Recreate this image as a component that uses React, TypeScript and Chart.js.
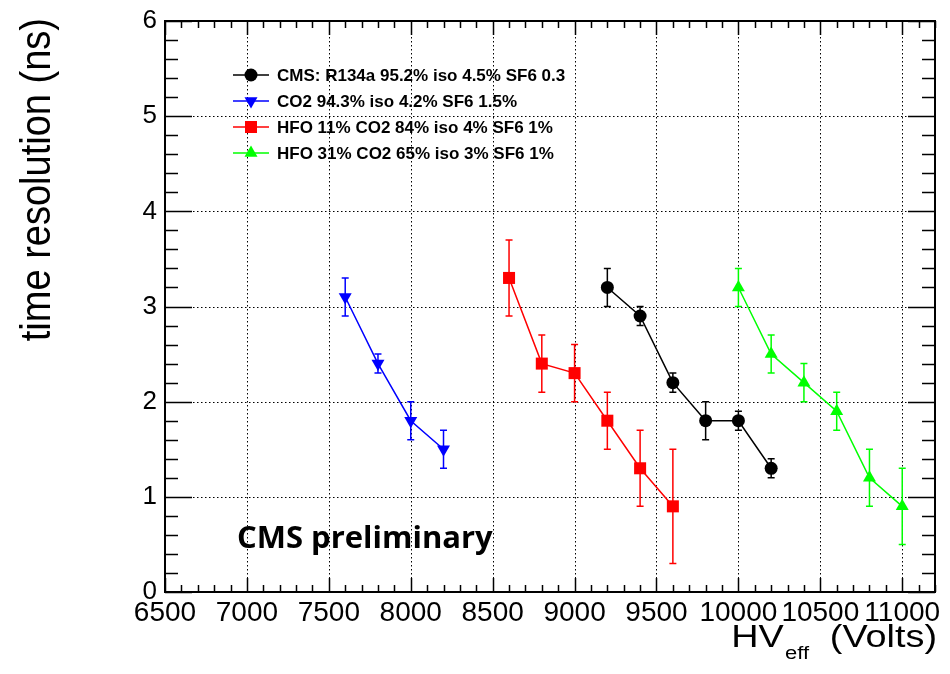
import { useEffect, useRef } from "react";
import { Chart, registerables } from "chart.js";
import { drawPoint } from "chart.js/helpers";

Chart.register(...registerables);

// Effective high voltage (V) and time resolution (ns) per gas mixture
const cmsHV = [9200, 9400, 9600, 9800, 10000, 10200];
const cmsRes = [3.2, 2.9, 2.2, 1.8, 1.8, 1.3];
const cmsErr = [0.2, 0.1, 0.1, 0.2, 0.1, 0.1];

const co2HV = [7600, 7800, 8000, 8200];
const co2Res = [3.1, 2.4, 1.8, 1.5];
const co2Err = [0.2, 0.1, 0.2, 0.2];

const hfo11HV = [8600, 8800, 9000, 9200, 9400, 9600];
const hfo11Res = [3.3, 2.4, 2.3, 1.8, 1.3, 0.9];
const hfo11Err = [0.4, 0.3, 0.3, 0.3, 0.4, 0.6];

const hfo31HV = [10000, 10200, 10400, 10600, 10800, 11000];
const hfo31Res = [3.2, 2.5, 2.2, 1.9, 1.2, 0.9];
const hfo31Err = [0.2, 0.2, 0.2, 0.2, 0.3, 0.4];

const seriesLabels = [
  "CMS: R134a 95.2% iso 4.5% SF6 0.3",
  "CO2 94.3% iso 4.2% SF6 1.5%",
  "HFO 11% CO2 84% iso 4% SF6 1%",
  "HFO 31% CO2 65% iso 3% SF6 1%",
];

const xTickValues = [6500, 7000, 7500, 8000, 8500, 9000, 9500, 10000, 10500, 11000];
const yTickValues = [0, 1, 2, 3, 4, 5, 6];
const xMin = 6500;
const xMax = 11200;
const yMin = 0;
const yMax = 6;

const series = [
  { label: seriesLabels[0], hv: cmsHV, res: cmsRes, err: cmsErr, color: "#000000", style: "circle", radius: 6.5, rotation: 0 },
  { label: seriesLabels[1], hv: co2HV, res: co2Res, err: co2Err, color: "#0000ff", style: "triangle", radius: 7.5, rotation: 180 },
  { label: seriesLabels[2], hv: hfo11HV, res: hfo11Res, err: hfo11Err, color: "#ff0000", style: "rect", radius: 8.5, rotation: 0 },
  { label: seriesLabels[3], hv: hfo31HV, res: hfo31Res, err: hfo31Err, color: "#00ff00", style: "triangle", radius: 7.5, rotation: 0 },
];

const FONT = '"Liberation Sans", Arial, Helvetica, sans-serif';

const rootStyle = {
  id: "rootStyle",
  beforeDatasetsDraw(chart: any) {
    const ctx = chart.ctx;
    const xs = chart.scales.x;
    const ys = chart.scales.y;
    const { left, right, top, bottom } = chart.chartArea;
    ctx.save();

    // dotted grid at the major ticks
    ctx.strokeStyle = "#000";
    ctx.lineWidth = 1;
    ctx.setLineDash([1.5, 2.5]);
    ctx.beginPath();
    xTickValues.forEach((v) => {
      const px = Math.round(xs.getPixelForValue(v)) + 0.5;
      ctx.moveTo(px, top);
      ctx.lineTo(px, bottom);
    });
    yTickValues.forEach((v) => {
      const py = Math.round(ys.getPixelForValue(v)) + 0.5;
      ctx.moveTo(left, py);
      ctx.lineTo(right, py);
    });
    ctx.stroke();
    ctx.setLineDash([]);

    // vertical error bars with small caps
    ctx.lineWidth = 1.5;
    series.forEach((s) => {
      ctx.strokeStyle = s.color;
      s.hv.forEach((v, j) => {
        const px = xs.getPixelForValue(v);
        const ty = ys.getPixelForValue(s.res[j] + s.err[j]);
        const by = ys.getPixelForValue(s.res[j] - s.err[j]);
        ctx.beginPath();
        ctx.moveTo(px, ty);
        ctx.lineTo(px, by);
        ctx.moveTo(px - 3.5, ty);
        ctx.lineTo(px + 3.5, ty);
        ctx.moveTo(px - 3.5, by);
        ctx.lineTo(px + 3.5, by);
        ctx.stroke();
      });
    });
    ctx.restore();
  },
  afterDraw(chart: any) {
    const ctx = chart.ctx;
    const xs = chart.scales.x;
    const ys = chart.scales.y;
    const { left, right, top, bottom } = chart.chartArea;
    ctx.save();

    // inward tick marks on all four sides
    ctx.strokeStyle = "#000";
    ctx.lineWidth = 1.5;
    ctx.beginPath();
    for (let k = 0; k <= (xMax - xMin) / 100; k++) {
      const v = xMin + k * 100;
      const px = Math.round(xs.getPixelForValue(v)) + 0.5;
      const len = v % 500 === 0 ? 14 : 7;
      ctx.moveTo(px, bottom);
      ctx.lineTo(px, bottom - len);
      ctx.moveTo(px, top);
      ctx.lineTo(px, top + len);
    }
    for (let k = 0; k <= 30; k++) {
      const py = Math.round(ys.getPixelForValue(yMin + k * 0.2)) + 0.5;
      const len = k % 5 === 0 ? 27 : 13;
      ctx.moveTo(left, py);
      ctx.lineTo(left + len, py);
      ctx.moveTo(right, py);
      ctx.lineTo(right - len, py);
    }
    ctx.stroke();

    // frame
    ctx.lineWidth = 2;
    ctx.strokeRect(left, top, right - left, bottom - top);

    // legend
    ctx.font = `bold 17px ${FONT}`;
    ctx.textAlign = "left";
    ctx.textBaseline = "middle";
    series.forEach((s, i) => {
      const ry = 75 + i * 26;
      ctx.strokeStyle = s.color;
      ctx.fillStyle = s.color;
      ctx.lineWidth = 1.5;
      ctx.beginPath();
      ctx.moveTo(233, ry);
      ctx.lineTo(269, ry);
      ctx.stroke();
      drawPoint(ctx, { pointStyle: s.style, radius: s.radius, rotation: s.rotation, borderWidth: 0 } as any, 251, ry);
      ctx.fillStyle = "#000";
      ctx.fillText(s.label, 277, ry + 1);
    });

    // annotation
    ctx.fillStyle = "#000";
    ctx.font = 'bold 31px "Open Sans", sans-serif';
    ctx.textBaseline = "alphabetic";
    ctx.fillText("CMS preliminary", 237, 548);

    // y-axis title
    ctx.save();
    ctx.translate(50, 18);
    ctx.rotate(-Math.PI / 2);
    ctx.scale(0.905, 1);
    ctx.font = `42px ${FONT}`;
    ctx.textAlign = "right";
    ctx.fillText("time resolution (ns)", 0, 0);
    ctx.restore();

    // x-axis title with subscript
    ctx.save();
    ctx.translate(937, 647);
    ctx.scale(1.22, 1);
    ctx.textAlign = "right";
    ctx.font = `31px ${FONT}`;
    const tail = "(Volts)";
    ctx.fillText(tail, 0, 0);
    let xr = -ctx.measureText(tail).width - 17;
    ctx.font = `18px ${FONT}`;
    ctx.fillText("eff", xr, 12);
    xr -= ctx.measureText("eff").width + 1;
    ctx.font = `31px ${FONT}`;
    ctx.fillText("HV", xr, 0);
    ctx.restore();

    ctx.restore();
  },
};

export default function App() {
  const canvasRef = useRef<HTMLCanvasElement | null>(null);

  useEffect(() => {
    const canvas = canvasRef.current;
    if (!canvas) return;
    const chart = new Chart(canvas, {
      type: "scatter",
      data: {
        datasets: series.map((s) => ({
          label: s.label,
          data: s.hv.map((v, j) => ({ x: v, y: s.res[j] })),
          showLine: true,
          borderColor: s.color,
          backgroundColor: s.color,
          borderWidth: 1.5,
          pointStyle: s.style as any,
          pointRadius: s.radius,
          pointHoverRadius: s.radius,
          pointRotation: s.rotation,
          pointBorderWidth: 0,
          tension: 0,
        })),
      },
      options: {
        animation: false,
        responsive: false,
        devicePixelRatio: 1,
        events: [],
        layout: { padding: { top: 14, right: 15, left: 0, bottom: 0 } },
        plugins: { legend: { display: false }, tooltip: { enabled: false } },
        scales: {
          x: {
            type: "linear",
            min: xMin,
            max: xMax,
            afterBuildTicks: (s: any) => {
              s.ticks = xTickValues.map((v) => ({ value: v }));
            },
            afterFit: (s: any) => {
              s.height = 82;
            },
            ticks: {
              font: { family: FONT, size: 28, lineHeight: 1 },
              color: "#000",
              padding: 7,
              autoSkip: false,
              maxRotation: 0,
              minRotation: 0,
              callback: (v: any) => String(v),
            },
            grid: { display: false, drawTicks: false },
            border: { display: false },
          },
          y: {
            type: "linear",
            min: yMin,
            max: yMax,
            afterBuildTicks: (s: any) => {
              s.ticks = yTickValues.map((v) => ({ value: v }));
            },
            afterFit: (s: any) => {
              s.width = 165;
            },
            ticks: {
              font: { family: FONT, size: 26, lineHeight: 1 },
              color: "#000",
              padding: 8,
              autoSkip: false,
              callback: (v: any) => String(v),
            },
            grid: { display: false, drawTicks: false },
            border: { display: false },
          },
        },
      },
      plugins: [rootStyle],
    });
    return () => chart.destroy();
  }, []);

  return (
    <div style={{ position: "absolute", left: 0, top: 0, width: 950, height: 674, background: "#fff" }}>
      <canvas ref={canvasRef} width={950} height={674} style={{ width: 950, height: 674, display: "block" }} />
    </div>
  );
}
